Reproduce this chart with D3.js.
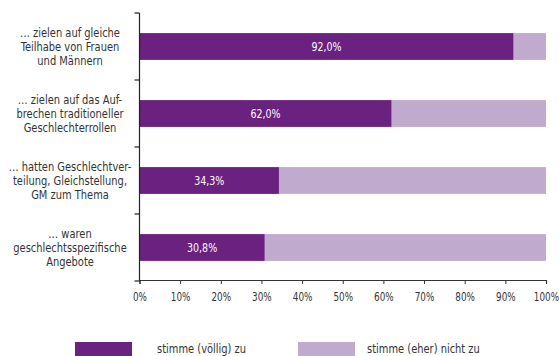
<!DOCTYPE html>
<html>
<head>
<meta charset="utf-8">
<script src="https://cdn.jsdelivr.net/npm/d3@7"></script>
<style>
  body { margin: 0; background: #fff; }
  text { font-family: "Liberation Sans Narrow", "DejaVu Sans Condensed", "Liberation Sans", sans-serif; }
</style>
</head>
<body>
<div id="chart"></div>
<script>
// Chart size
const width = 559;
const height = 356;

// Data
const categories = [
    ["… zielen auf gleiche", "Teilhabe von Frauen", "und Männern"],
    ["… zielen auf das Auf-", "brechen traditioneller", "Geschlechterrollen"],
    ["… hatten Geschlechtver-", "teilung, Gleichstellung,", "GM zum Thema"],
    ["… waren", "geschlechtsspezifische", "Angebote"]
];
const agree = [92.0, 62.0, 34.3, 30.8];
const xTicks = [0, 10, 20, 30, 40, 50, 60, 70, 80, 90, 100];
const seriesNames = ["stimme (völlig) zu", "stimme (eher) nicht  zu"];
const colors = ["#6a217f", "#c0aacd"];

const margin = { top: 13, left: 139.5, right: 13, bottom: 75 };
const fontSize = "12.5px";
const squeeze = "scale(0.88,1)"; // condensed look of the original type

const svg = d3.select("#chart")
    .append("svg")
    .attr("width", width)
    .attr("height", height);

const x = d3.scaleLinear()
    .domain([0, 100])
    .range([margin.left, width - margin.right]);

const y = d3.scaleBand()
    .domain(d3.range(categories.length))
    .range([margin.top, 281]);

const barH = y.bandwidth() * 0.4;

// Bars: light part (full width) then dark part on top
const rows = svg.append("g")
    .selectAll("g")
    .data(agree)
    .enter().append("g")
    .attr("transform", (d, i) => `translate(0,${y(i) + (y.bandwidth() - barH) / 2})`);

rows.append("rect")
    .attr("x", d => x(d))
    .attr("width", d => x(100) - x(d))
    .attr("height", barH)
    .attr("fill", colors[1]);

rows.append("rect")
    .attr("x", x(0))
    .attr("width", d => x(d) - x(0))
    .attr("height", barH)
    .attr("fill", colors[0]);

rows.append("text")
    .attr("transform", d => `translate(${(x(0) + x(d)) / 2},${barH / 2 + 4}) ${squeeze}`)
    .attr("text-anchor", "middle")
    .attr("fill", "#fff")
    .style("font-size", "12px")
    .text(d => d.toFixed(1).replace(".", ",") + "%");

// Category labels (three lines each)
const labels = svg.append("g")
    .selectAll("text")
    .data(categories)
    .enter().append("text")
    .attr("text-anchor", "middle")
    .attr("fill", "#333")
    .style("font-size", fontSize)
    .attr("transform", (d, i) => `translate(70,${y(i) + y.bandwidth() / 2}) ${squeeze}`);

labels.selectAll("tspan")
    .data(d => d)
    .enter().append("tspan")
    .attr("x", 0)
    .attr("y", (d, j) => (j - 1) * 14 + 4.5)
    .text(d => d);

// Left axis with ticks at band boundaries
const yAxis = svg.append("g");
yAxis.append("line")
    .attr("x1", x(0)).attr("x2", x(0))
    .attr("y1", y.range()[0]).attr("y2", y.range()[1])
    .attr("stroke", "#222")
    .attr("stroke-width", 1.2);
yAxis.selectAll("line.tick")
    .data(d3.range(categories.length + 1))
    .enter().append("line")
    .attr("class", "tick")
    .attr("x1", x(0) - 5).attr("x2", x(0))
    .attr("y1", i => y.range()[0] + i * y.step())
    .attr("y2", i => y.range()[0] + i * y.step())
    .attr("stroke", "#222")
    .attr("stroke-width", 1.2);

// Bottom axis
const xAxis = svg.append("g")
    .attr("transform", `translate(0,${y.range()[1] - 1})`)
    .call(d3.axisBottom(x).tickValues(xTicks).tickSize(4).tickFormat(d => d + "%"));
xAxis.select(".domain").attr("stroke", "#333").attr("stroke-width", 1.2);
xAxis.selectAll(".tick line").attr("stroke", "#333");
xAxis.selectAll(".tick text")
    .attr("fill", "#333")
    .attr("y", 0)
    .attr("dy", 0)
    .attr("transform", "translate(0,21) scale(0.82,1)")
    .style("font-size", "12px")
    .style("font-family", "'Liberation Sans Narrow', 'DejaVu Sans Condensed', sans-serif");

// Legend
const legendX = [75, 298];
const legend = svg.append("g")
    .selectAll("g")
    .data(seriesNames)
    .enter().append("g")
    .attr("transform", (d, i) => `translate(${legendX[i]},342)`);

legend.append("rect")
    .attr("width", 57)
    .attr("height", 14)
    .attr("fill", (d, i) => colors[i]);

legend.append("text")
    .attr("transform", (d, i) => `translate(${i === 0 ? 82 : 69},10.5) ${squeeze}`)
    .attr("fill", "#333")
    .style("font-size", fontSize)
    .text(d => d);
</script>
</body>
</html>
